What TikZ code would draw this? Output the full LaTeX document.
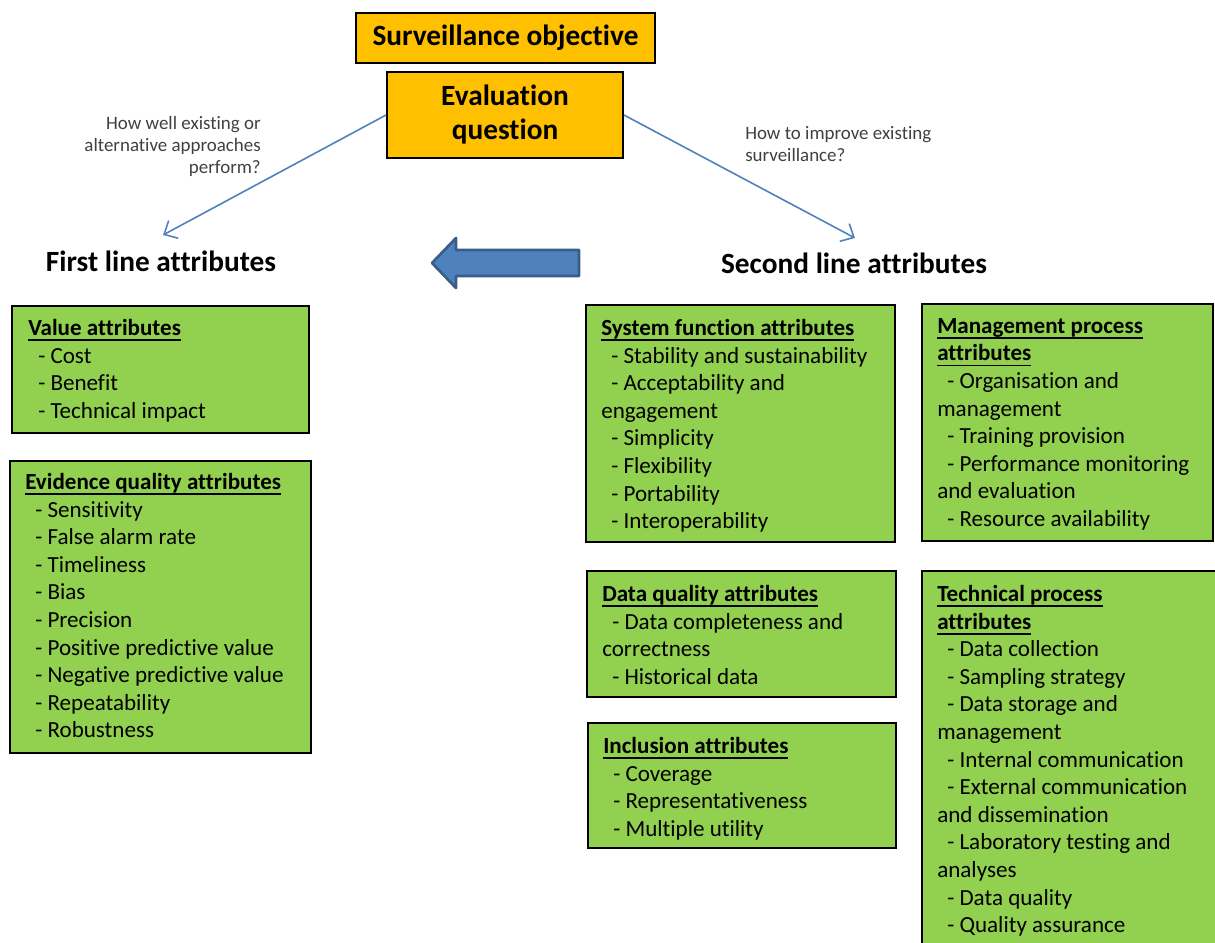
\documentclass[tikz,border=0pt]{standalone}
\usepackage{fontspec}
\setmainfont{Carlito}[Ligatures={NoCommon}]
\usetikzlibrary{arrows.meta,fit,calc}
\definecolor{orangefill}{HTML}{FFC000}
\definecolor{greenfill}{HTML}{92D050}
\definecolor{connblue}{HTML}{4F81BD}
\definecolor{arrowedge}{HTML}{385D8A}
\definecolor{graytext}{HTML}{404040}
\newcommand\dashitem{\hspace*{7.5pt}- }
\newsavebox\hdbox
\newcommand\boxhead[1]{\sbox\hdbox{\textbf{#1}}\usebox\hdbox\llap{\rule[-4.2pt]{\wd\hdbox}{1.2pt}}}
\begin{document}
\begin{tikzpicture}[x=0.75pt,y=-0.75pt,
  gbox/.style={draw=black, fill=greenfill, line width=1.4pt, inner sep=0pt},
  obox/.style={draw=black, fill=orangefill, line width=1.4pt, inner sep=0pt},
  otext/.style={inner sep=0pt, align=center, font=\fontsize{22}{25.5}\selectfont\bfseries},
  body/.style={inner sep=0pt, anchor=north west, align=left,
    font=\fontsize{17.3}{20.7}\selectfont},
  small/.style={inner sep=0pt, text=graytext, font=\fontsize{14.2}{16.5}\selectfont},
  head/.style={inner sep=0pt, font=\fontsize{22}{24}\selectfont\bfseries},
  conn/.style={draw=connblue, line width=1.2pt, -{Straight Barb[length=8pt,width=15pt]}}
]
\useasboundingbox (0,0) rectangle (1215,943);

% top boxes
\node[obox, fit={(356,13) (655,63)}] (obj) {};
\node[otext] (objtxt) at (obj.center) {Surveillance objective};
\node[obox, fit={(387,72) (623,158)}] (evq) {};
\node[otext] (evqtxt) at (evq.center) {Evaluation\\question};

% question labels
\node[small, anchor=north east, align=right] (qleft) at (261,116) {How well existing or\\alternative approaches\\perform?};
\node[small, anchor=north west, align=left] (qright) at (745,126) {How to improve existing\\surveillance?};

% line headings
\node[head] (first) at (161,261) {First line attributes};
\node[head] (second) at (854,263) {Second line attributes};

\coordinate (firsttip) at (163,235);
\coordinate (secondtip) at (855,238);
\draw[conn] (evq.west) -- (firsttip);
\draw[conn] (evq.east) -- (secondtip);

% big arrow
\filldraw[fill=connblue, draw=arrowedge, line width=2pt, line join=round]
  (432,263) -- (456,238) -- (456,250) -- (579,250) -- (579,276) -- (456,276) -- (456,288) -- cycle;

% green boxes
\node[gbox, fit={(12,306) (309,433)}] (valbox) {};
\node[body] (valtxt) at (28,319) {\boxhead{Value attributes}\\
\dashitem Cost\\
\dashitem Benefit\\
\dashitem Technical impact};

\node[gbox, fit={(10,461) (311,753)}] (evbox) {};
\node[body] (evtxt) at (25,473) {\boxhead{Evidence quality attributes}\\
\dashitem Sensitivity\\
\dashitem False alarm rate\\
\dashitem Timeliness\\
\dashitem Bias\\
\dashitem Precision\\
\dashitem Positive predictive value\\
\dashitem Negative predictive value\\
\dashitem Repeatability\\
\dashitem Robustness};

\node[gbox, fit={(586,305) (895,542)}] (sysbox) {};
\node[body] (systxt) at (601,319) {\boxhead{System function attributes}\\
\dashitem Stability and sustainability\\
\dashitem Acceptability and\\
engagement\\
\dashitem Simplicity\\
\dashitem Flexibility\\
\dashitem Portability\\
\dashitem Interoperability};

\node[gbox, fit={(922,304) (1213,541)}] (mgmtbox) {};
\node[body] (mgmttxt) at (937,318) {\boxhead{Management process}\\
\boxhead{attributes}\\
\dashitem Organisation and\\
management\\
\dashitem Training provision\\
\dashitem Performance monitoring\\
and evaluation\\
\dashitem Resource availability};

\node[gbox, fit={(587,571) (896,697)}] (dqbox) {};
\node[body] (dqtxt) at (602,585) {\boxhead{Data quality attributes}\\
\dashitem Data completeness and\\
correctness\\
\dashitem Historical data};

\node[gbox, fit={(588,723) (896,848)}] (incbox) {};
\node[body] (inctxt) at (603,737) {\boxhead{Inclusion attributes}\\
\dashitem Coverage\\
\dashitem Representativeness\\
\dashitem Multiple utility};

\node[gbox, fit={(922,571) (1218,950)}] (techbox) {};
\node[body] (techtxt) at (937,585) {\boxhead{Technical process}\\
\boxhead{attributes}\\
\dashitem Data collection\\
\dashitem Sampling strategy\\
\dashitem Data storage and\\
management\\
\dashitem Internal communication\\
\dashitem External communication\\
and dissemination\\
\dashitem Laboratory testing and\\
analyses\\
\dashitem Data quality\\
\dashitem Quality assurance};
\end{tikzpicture}
\end{document}
